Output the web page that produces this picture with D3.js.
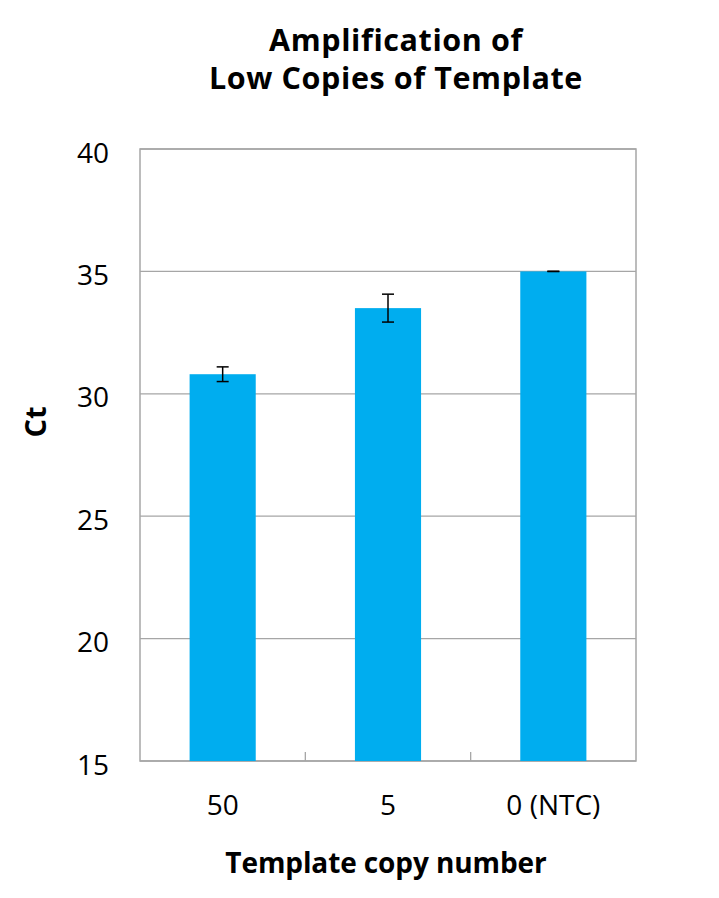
<!DOCTYPE html>
<html><head><meta charset="utf-8">
<script src="https://cdn.jsdelivr.net/npm/d3@7"></script>
<style>body{margin:0;background:#fff}</style>
</head><body>
<svg id="c" width="719" height="898"></svg>
<script>
const categories = ["50", "5", "0 (NTC)"];
const ctValues = [30.8, 33.5, 35.0];
const ctErrors = [0.3, 0.57, 0.0];
const yTicks = [15, 20, 25, 30, 35, 40];
const titleLines = ["Amplification of", "Low Copies of Template"];

const svg = d3.select("#c");
const m = {left: 140, right: 636, top: 149, bottom: 761};
const font = "'Open Sans', sans-serif";

const x = d3.scaleBand().domain(categories).range([m.left, m.right]).paddingInner(0.6).paddingOuter(0.3);
const y = d3.scaleLinear().domain([15, 40]).range([m.bottom, m.top]);

svg.append("g").selectAll("line").data(yTicks).join("line")
  .attr("x1", m.left).attr("x2", m.right)
  .attr("y1", d => y(d)).attr("y2", d => y(d))
  .attr("stroke", "#a6a6a6").attr("stroke-width", 1.3);
svg.append("rect").attr("x", m.left).attr("y", m.top)
  .attr("width", m.right - m.left).attr("height", m.bottom - m.top)
  .attr("fill", "none").attr("stroke", "#a6a6a6").attr("stroke-width", 1.5);

svg.append("g").selectAll("rect").data(categories).join("rect")
  .attr("x", d => x(d)).attr("width", x.bandwidth())
  .attr("y", (d, i) => y(ctValues[i]))
  .attr("height", (d, i) => y(15) - y(ctValues[i]))
  .attr("fill", "#00adef");

const eb = svg.append("g").attr("stroke", "#000").attr("stroke-width", 1.5);
categories.forEach((c, i) => {
  const cx = x(c) + x.bandwidth() / 2;
  const hi = y(ctValues[i] + ctErrors[i]), lo = y(ctValues[i] - ctErrors[i]);
  eb.append("line").attr("x1", cx).attr("x2", cx).attr("y1", hi).attr("y2", lo);
  eb.append("line").attr("x1", cx - 6).attr("x2", cx + 6).attr("y1", hi).attr("y2", hi);
  eb.append("line").attr("x1", cx - 6).attr("x2", cx + 6).attr("y1", lo).attr("y2", lo);
});

const step = (m.right - m.left) / categories.length;
svg.append("g").selectAll("line").data(d3.range(1, categories.length)).join("line")
  .attr("x1", d => m.left + d * step).attr("x2", d => m.left + d * step)
  .attr("y1", m.bottom).attr("y2", m.bottom - 9)
  .attr("stroke", "#a6a6a6").attr("stroke-width", 1.3);

svg.append("g").selectAll("text").data(yTicks).join("text")
  .attr("x", 109).attr("y", d => y(d) + 13.5)
  .attr("text-anchor", "end").attr("font-family", font).attr("font-size", 28)
  .attr("fill", "#000").text(d => d);

svg.append("g").selectAll("text").data(categories).join("text")
  .attr("x", d => x(d) + x.bandwidth() / 2).attr("y", 815)
  .attr("text-anchor", "middle").attr("font-family", font).attr("font-size", 28)
  .attr("fill", "#000").text(d => d);

svg.append("g").selectAll("text").data(titleLines).join("text")
  .attr("x", 396).attr("y", (d, i) => 51 + i * 38)
  .attr("text-anchor", "middle").attr("font-family", font).attr("font-weight", "bold")
  .attr("font-size", 30.5).attr("letter-spacing", 0.6).attr("fill", "#000").text(d => d);

svg.append("text").attr("x", 386).attr("y", 873)
  .attr("text-anchor", "middle").attr("font-family", font).attr("font-weight", "bold")
  .attr("font-size", 28).attr("letter-spacing", -0.1).text("Template copy number");
svg.append("text").attr("transform", "translate(46,422) rotate(-90)")
  .attr("text-anchor", "middle").attr("font-family", font).attr("font-weight", "bold")
  .attr("font-size", 29).text("Ct");
</script>
</body></html>
